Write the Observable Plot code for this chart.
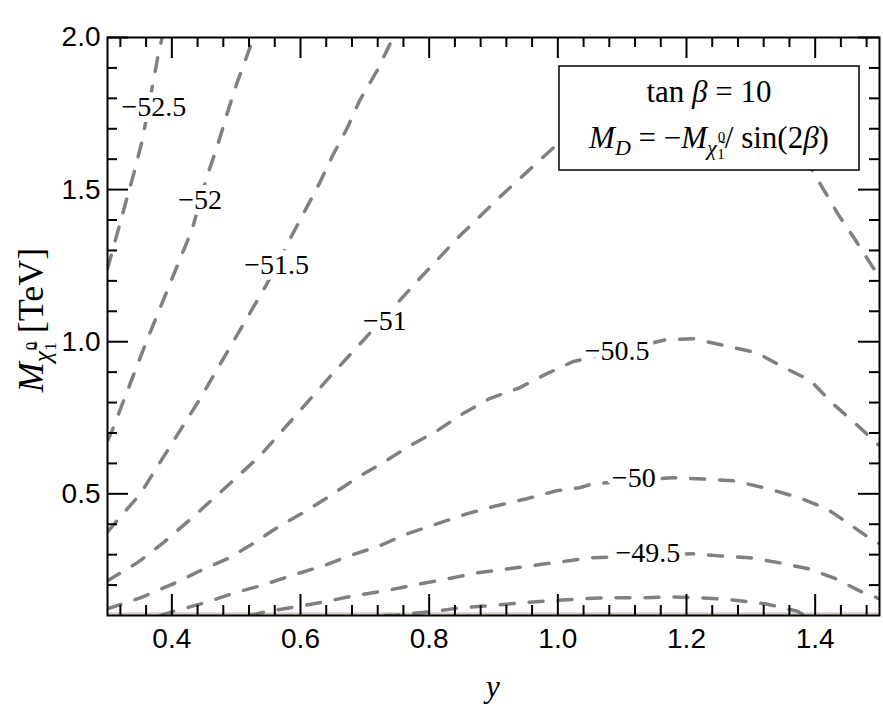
<!DOCTYPE html>
<html>
<head>
<meta charset="utf-8">
<script src="https://cdn.jsdelivr.net/npm/d3@7"></script>
<script src="https://cdn.jsdelivr.net/npm/@observablehq/plot@0.6"></script>
<style>
  body { margin: 0; background: #fff; }
  #wrap { position: relative; width: 883px; height: 714px; }
</style>
</head>
<body>
<div id="wrap"></div>
<script>
// Axis domains and ticks
const xDomain = [0.3, 1.5];
const yDomain = [0.1, 2.0];
const xMajor = [0.4, 0.6, 0.8, 1.0, 1.2, 1.4];
const xMinor = [0.32, 0.36, 0.44, 0.48, 0.52, 0.56, 0.64, 0.68, 0.72, 0.76, 0.84, 0.88, 0.92, 0.96,
                1.04, 1.08, 1.12, 1.16, 1.24, 1.28, 1.32, 1.36, 1.44, 1.48];
const yMajor = [0.5, 1.0, 1.5, 2.0];
const yMinor = [0.2, 0.3, 0.4, 0.6, 0.7, 0.8, 0.9, 1.1, 1.2, 1.3, 1.4, 1.6, 1.7, 1.8, 1.9];
const baseLevel = [0.1];

// Contour lines: [y, M (TeV)]
const c525 = [[0.300,1.240],[0.315,1.355],[0.327,1.447],[0.340,1.546],[0.354,1.661],[0.372,1.865],[0.380,1.957],[0.385,2.000]];
const c520 = [[0.300,0.674],[0.307,0.707],[0.361,1.003],[0.416,1.289],[0.431,1.365],[0.455,1.546],[0.470,1.638],[0.486,1.750],[0.501,1.849],[0.521,1.964],[0.526,2.000]];
const c515 = [[0.300,0.375],[0.351,0.500],[0.444,0.813],[0.548,1.191],[0.584,1.339],[0.607,1.431],[0.630,1.523],[0.650,1.612],[0.672,1.700],[0.692,1.793],[0.719,1.891],[0.744,2.000]];
const c510a = [[0.300,0.214],[0.346,0.273],[0.385,0.336],[0.433,0.424],[0.490,0.533],[0.537,0.625],[0.584,0.737],[0.650,0.895],[0.723,1.063],[0.785,1.207],[0.848,1.349],[0.914,1.484],[1.000,1.651]];
const c510b = [[1.384,1.602],[1.394,1.569],[1.435,1.421],[1.461,1.339],[1.488,1.250],[1.500,1.214]];
const c505 = [[0.300,0.122],[0.351,0.158],[0.402,0.204],[0.444,0.247],[0.486,0.286],[0.526,0.336],[0.568,0.395],[0.604,0.438],[0.646,0.493],[0.688,0.553],[0.728,0.602],[0.770,0.658],[0.812,0.707],[0.852,0.763],[0.894,0.813],[0.941,0.849],[0.983,0.895],[1.023,0.934],[1.169,1.007],[1.211,1.010],[1.259,0.987],[1.309,0.964],[1.349,0.918],[1.393,0.872],[1.426,0.799],[1.461,0.734],[1.500,0.658]];
const c500 = [[0.382,0.100],[0.405,0.115],[0.450,0.141],[0.497,0.174],[0.543,0.201],[0.590,0.234],[0.635,0.263],[0.680,0.299],[0.723,0.329],[0.765,0.368],[0.812,0.401],[0.858,0.434],[0.905,0.461],[0.952,0.484],[0.998,0.510],[1.034,0.520],[1.054,0.533],[1.178,0.553],[1.225,0.549],[1.272,0.543],[1.321,0.520],[1.376,0.487],[1.418,0.451],[1.453,0.401],[1.484,0.355],[1.500,0.336]];
const c495 = [[0.521,0.100],[0.545,0.112],[0.591,0.128],[0.638,0.145],[0.683,0.165],[0.731,0.181],[0.779,0.201],[0.827,0.220],[0.874,0.240],[0.921,0.253],[0.967,0.266],[1.017,0.280],[1.054,0.290],[1.210,0.303],[1.251,0.296],[1.298,0.290],[1.345,0.273],[1.391,0.253],[1.433,0.220],[1.469,0.181],[1.500,0.155]];
const c490 = [[0.731,0.100],[0.750,0.102],[0.801,0.112],[0.848,0.125],[0.894,0.132],[0.941,0.141],[0.987,0.148],[1.037,0.155],[1.076,0.158],[1.127,0.158],[1.178,0.161],[1.225,0.158],[1.272,0.151],[1.324,0.138],[1.371,0.115],[1.385,0.100]];

// Contour labels
const labelText = ["\u221252.5", "\u221252", "\u221251.5", "\u221251", "\u221250.5", "\u221250", "\u221249.5"];
const labelX = [0.372, 0.444, 0.563, 0.731, 1.092, 1.118, 1.140];
const labelY = [1.773, 1.467, 1.253, 1.069, 0.970, 0.553, 0.306];

const rows = [];
const add = (id, pts) => pts.forEach(([x, y]) => rows.push({id, x, y}));
add("-52.5", c525); add("-52", c520); add("-51.5", c515);
add("-51a", c510a); add("-51b", c510b);
add("-50.5", c505); add("-50", c500); add("-49.5", c495); add("-49", c490);

const labels = labelText.map((t, i) => ({t, x: labelX[i], y: labelY[i]}));

const serif = "Liberation Serif, Times New Roman, serif";
const sans = "Liberation Sans, Arial, Helvetica, sans-serif";

const W = 883, H = 714, mL = 107, mR = 4, mT = 37, mB = 99;
const innerW = W - mL - mR, innerH = H - mT - mB;
const MAJ = 21, MIN = 10;
const tk = {stroke: "#000", strokeWidth: 2};

const chart = Plot.plot({
  width: W, height: H,
  marginLeft: mL, marginRight: mR, marginTop: mT, marginBottom: mB,
  x: {domain: xDomain},
  y: {domain: yDomain},
  marks: [
    Plot.ruleY(baseLevel, {stroke: "#d9d0c0", strokeWidth: 2.5, dy: -2}),
    Plot.line(rows, {x: "x", y: "y", z: "id", stroke: "#808080", strokeWidth: 3.5,
                     strokeDasharray: "14,15", clip: true}),
    Plot.text(labels, {x: "x", y: "y", text: "t", fontFamily: serif, fontSize: 28,
                       fill: "black", stroke: "white", strokeWidth: 12}),
    Plot.frame({stroke: "#000", strokeWidth: 2}),
    // inward ticks on all four sides
    Plot.ruleX(xMajor, {...tk, insetTop: innerH - MAJ}),
    Plot.ruleX(xMinor, {...tk, insetTop: innerH - MIN}),
    Plot.ruleX(xMajor, {...tk, insetBottom: innerH - MAJ}),
    Plot.ruleX(xMinor, {...tk, insetBottom: innerH - MIN}),
    Plot.ruleY(yMajor, {...tk, insetRight: innerW - MAJ}),
    Plot.ruleY(yMinor, {...tk, insetRight: innerW - MIN}),
    Plot.ruleY(yMajor, {...tk, insetLeft: innerW - MAJ}),
    Plot.ruleY(yMinor, {...tk, insetLeft: innerW - MIN}),
    Plot.axisX(xMajor, {anchor: "bottom", tickSize: 0, tickPadding: 13, fontSize: 28, fontFamily: sans,
                        tickFormat: ".1f", label: null}),
    Plot.axisY(yMajor, {anchor: "left", tickSize: 0, tickPadding: 7, fontSize: 28, fontFamily: sans,
                        tickFormat: ".1f", label: null})
  ]
});

document.getElementById("wrap").appendChild(chart);

// Titles and legend box drawn as SVG text with tspans (sub/superscripts)
const svg = d3.select(chart);
function mathText(parent, parts, attrs) {
  const t = parent.append("text")
    .attr("font-family", serif).attr("fill", "black").style("white-space", "pre");
  Object.entries(attrs).forEach(([k, v]) => t.attr(k, v));
  parts.forEach(p => {
    const s = t.append("tspan").text(p.t);
    if (p.i) s.attr("font-style", "italic");
    if (p.fs) s.attr("font-size", p.fs);
    if (p.dx) s.attr("dx", p.dx);
    if (p.dy) s.attr("dy", p.dy);
  });
  return t;
}

// legend box
const box = svg.append("g");
box.append("rect").attr("x", 559).attr("y", 66).attr("width", 300).attr("height", 104)
  .attr("fill", "white").attr("stroke", "black").attr("stroke-width", 1.5);
mathText(box, [{t: "tan "}, {t: "\u03B2", i: 1}, {t: " = 10"}],
  {x: 709, y: 102, "text-anchor": "middle", "font-size": 31});
mathText(box, [
  {t: "M", i: 1}, {t: "D", i: 1, fs: 22, dy: 7}, {t: " = \u2212", dy: -7},
  {t: "M", i: 1}, {t: "\u03C7\u0303", i: 1, fs: 22, dy: 7},
  {t: "0", fs: 15, dx: 1, dy: -13}, {t: "1", fs: 15, dx: -8, dy: 17},
  {t: "/ sin(2", dy: -11}, {t: "\u03B2", i: 1}, {t: ")"}
], {x: 709, y: 148, "text-anchor": "middle", "font-size": 31});

// y-axis title
mathText(svg, [
  {t: "M", i: 1}, {t: "\u03C7\u0303", i: 1, fs: 25, dy: 8},
  {t: "0", fs: 17, dx: 1, dy: -14}, {t: "1", fs: 17, dx: -9, dy: 19},
  {t: " [TeV]", dy: -13}
], {transform: "translate(43,320) rotate(-90)", "text-anchor": "middle", "font-size": 36});

// x-axis title
mathText(svg, [{t: "y", i: 1}], {x: 493, y: 697, "text-anchor": "middle", "font-size": 31});
</script>
</body>
</html>
